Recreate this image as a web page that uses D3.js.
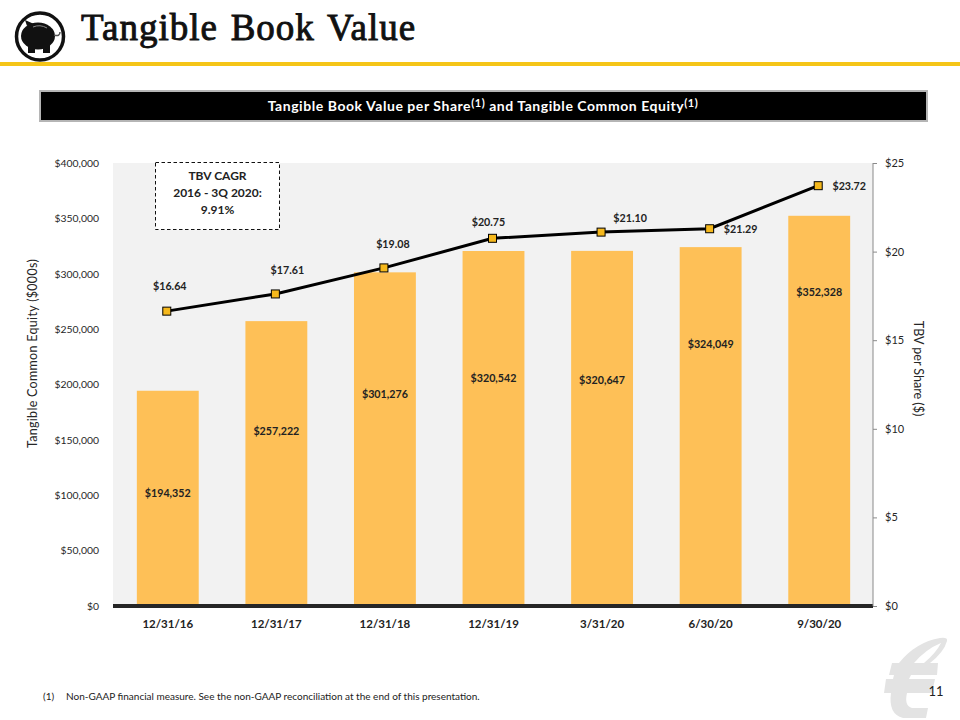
<!DOCTYPE html>
<html><head><meta charset="utf-8">
<script src="https://cdnjs.cloudflare.com/ajax/libs/d3/7.8.5/d3.min.js"></script>
<style>html,body{margin:0;padding:0;background:#fff}svg{display:block}text{font-family:Lato,"Open Sans",sans-serif}</style>
</head><body><svg id="c" width="960" height="720"></svg>
<script>
const categories=["12/31/16","12/31/17","12/31/18","12/31/19","3/31/20","6/30/20","9/30/20"];
const equity=[194352,257222,301276,320542,320647,324049,352328];
const tbv=[16.64,17.61,19.08,20.75,21.10,21.29,23.72];
const leftTicks=[0,50000,100000,150000,200000,250000,300000,350000,400000];
const rightTicks=[0,5,10,15,20,25];
const svg=d3.select("#c");
const L=113,R=873,T=163,B=606;
const x=d3.scaleBand().domain(categories).range([L+0.5,R+0.5]).paddingInner(0.43).paddingOuter(0.215);
const yL=d3.scaleLinear().domain([0,400000]).range([B,T]);
const yR=d3.scaleLinear().domain([0,25]).range([B,T]);
const cx=d=>x(d)+x.bandwidth()/2;
const fmtL=d3.format("$,");

// header
const pig=svg.append("g");
pig.append("circle").attr("cx",40).attr("cy",36.5).attr("r",23.5).attr("fill","#fff").attr("stroke","#111").attr("stroke-width",3.5);
pig.append("ellipse").attr("cx",38).attr("cy",36).attr("rx",17).attr("ry",13.5).attr("fill","#111");
pig.append("rect").attr("x",28).attr("y",44).attr("width",7).attr("height",9).attr("fill","#111");
pig.append("rect").attr("x",43).attr("y",44).attr("width",7).attr("height",9).attr("fill","#111");
pig.append("path").attr("d","M27 26 L25 20 L34 24 Z").attr("fill","#111");
pig.append("path").attr("d","M33 27 Q40 24 47 28").attr("fill","none").attr("stroke","#888").attr("stroke-width",1);
pig.append("path").attr("d","M54 35 Q60 37 60 32").attr("fill","none").attr("stroke","#555").attr("stroke-width",1.5);
svg.append("text").attr("x",81).attr("y",40).attr("font-size",37).attr("font-weight",400).attr("fill","#111").attr("stroke","#111").attr("stroke-width",0.9)
  .style("font-family","'Liberation Serif',serif").style("letter-spacing","1px").style("word-spacing","2.5px").text("Tangible Book Value");
svg.append("rect").attr("x",0).attr("y",62).attr("width",960).attr("height",4).attr("fill","#f5c518");

// banner
svg.append("rect").attr("x",40).attr("y",91).attr("width",887).attr("height",30).attr("fill","#000").attr("stroke","#b5b5b5").attr("stroke-width",2);
const ban=svg.append("text").attr("x",483).attr("y",111).attr("text-anchor","middle").attr("font-size",14).attr("font-weight",700).attr("fill","#fff").style("letter-spacing","0.55px");
ban.append("tspan").text("Tangible Book Value per Share");
ban.append("tspan").attr("dy",-4).attr("font-size",11).text("(1)");
ban.append("tspan").attr("dy",4).text(" and Tangible Common Equity");
ban.append("tspan").attr("dy",-4).attr("font-size",11).text("(1)");

// plot
svg.append("rect").attr("x",L).attr("y",T).attr("width",R-L).attr("height",B-T).attr("fill","#f2f2f2");
svg.selectAll("rect.bar").data(categories).join("rect").attr("class","bar")
  .attr("x",d=>x(d)).attr("width",x.bandwidth()).attr("y",(d,i)=>yL(equity[i])).attr("height",(d,i)=>B-yL(equity[i])).attr("fill","#fec057");
svg.append("line").attr("x1",L).attr("x2",R).attr("y1",B).attr("y2",B).attr("stroke","#262626").attr("stroke-width",4);
svg.append("line").attr("x1",R).attr("x2",R).attr("y1",T).attr("y2",B).attr("stroke","#8a8a8a").attr("stroke-width",1);

// axes
const axL=svg.append("g").attr("transform",`translate(${L},0)`).call(d3.axisLeft(yL).tickValues(leftTicks).tickFormat(fmtL).tickSize(0).tickPadding(14));
axL.select(".domain").remove();
const axR=svg.append("g").attr("transform",`translate(${R},0)`).call(d3.axisRight(yR).tickValues(rightTicks).tickFormat(d=>"$"+d).tickSize(4).tickPadding(8));
axR.select(".domain").remove();axR.selectAll("line").attr("stroke","#8a8a8a");
svg.selectAll("g.tick text").style("font-family","Lato,sans-serif").attr("fill","#262626");
axL.selectAll("text").attr("font-size",10.4);
axR.selectAll("text").attr("font-size",11);
svg.selectAll(".xl").data(categories).join("text").attr("class","xl").attr("x",cx).attr("y",628).attr("text-anchor","middle")
  .attr("font-size",11.5).attr("font-weight",700).attr("fill","#222").text(d=>d);

svg.append("text").attr("transform","translate(37,353.5) rotate(-90)").attr("text-anchor","middle").attr("font-size",12.5).attr("fill","#262626").style("letter-spacing","0.3px").text("Tangible Common Equity ($000s)");
svg.append("text").attr("transform","translate(914,368.5) rotate(90)").attr("text-anchor","middle").attr("font-size",12.5).attr("fill","#262626").text("TBV per Share ($)");

// bar labels
const barLabelBaseline=[497,435,398,382,384,348,296];
svg.selectAll(".bl").data(categories).join("text").attr("class","bl").attr("x",cx).attr("y",(d,i)=>barLabelBaseline[i])
  .attr("text-anchor","middle").attr("font-size",10.7).attr("font-weight",700).attr("fill","#222").text((d,i)=>fmtL(equity[i]));

// line
const px=d=>cx(d)-1;
const line=d3.line().x(d=>px(d)).y((d,i)=>yR(tbv[i]));
svg.append("path").attr("d",line(categories)).attr("fill","none").attr("stroke","#000").attr("stroke-width",3);
svg.selectAll(".pt").data(categories).join("rect").attr("class","pt").attr("x",d=>px(d)-4).attr("y",(d,i)=>yR(tbv[i])-4).attr("width",8).attr("height",8)
  .attr("fill","#f5b81c").attr("stroke","#000").attr("stroke-width",1);
const ldx=[3,12,9,-4,29,31,31],ldy=[-21,-20,-20,-12,-10,4,4];
svg.selectAll(".ll").data(categories).join("text").attr("class","ll").attr("x",(d,i)=>px(d)+ldx[i]).attr("y",(d,i)=>yR(tbv[i])+ldy[i])
  .attr("text-anchor","middle").attr("font-size",10.7).attr("font-weight",700).attr("fill","#222").text((d,i)=>"$"+tbv[i].toFixed(2));

// callout
svg.append("rect").attr("x",155.5).attr("y",162.5).attr("width",124).attr("height",67).attr("fill","#fff").attr("stroke","#111").attr("stroke-width",1).attr("stroke-dasharray","3.5 2.5");
["TBV CAGR","2016 - 3Q 2020:","9.91%"].forEach((t,i)=>svg.append("text").attr("x",217.5).attr("y",180+i*17).attr("text-anchor","middle").attr("font-size",12).attr("font-weight",700).attr("fill","#222").text(t));

// footer
svg.append("path").attr("fill-rule","evenodd").attr("d","M947 641 Q948 637 940 638 Q916 642 899 663 L892 663 L889 675 L894 675 L893 679 L886 679 L884 693 L891 693 Q888 714 903 718 L926 718 L928 708 L912 708 Q904 706 907 693 L932 693 L935 679 L909 679 L911 675 L937 675 L938 663 L930 663 Q944 652 947 641 Z M914 663 Q926 649 941 643 Q936 653 924 663 Z").attr("fill","#e3e3e3");
svg.append("text").attr("x",43).attr("y",700).attr("font-size",10).attr("fill","#222").text("(1)");
svg.append("text").attr("x",66).attr("y",700).attr("font-size",10).attr("fill","#222").text("Non-GAAP financial measure. See the non-GAAP reconciliation at the end of this presentation.");
svg.append("text").attr("x",936).attr("y",696).attr("text-anchor","middle").attr("font-size",13).attr("fill","#222").text("11");
</script></body></html>
